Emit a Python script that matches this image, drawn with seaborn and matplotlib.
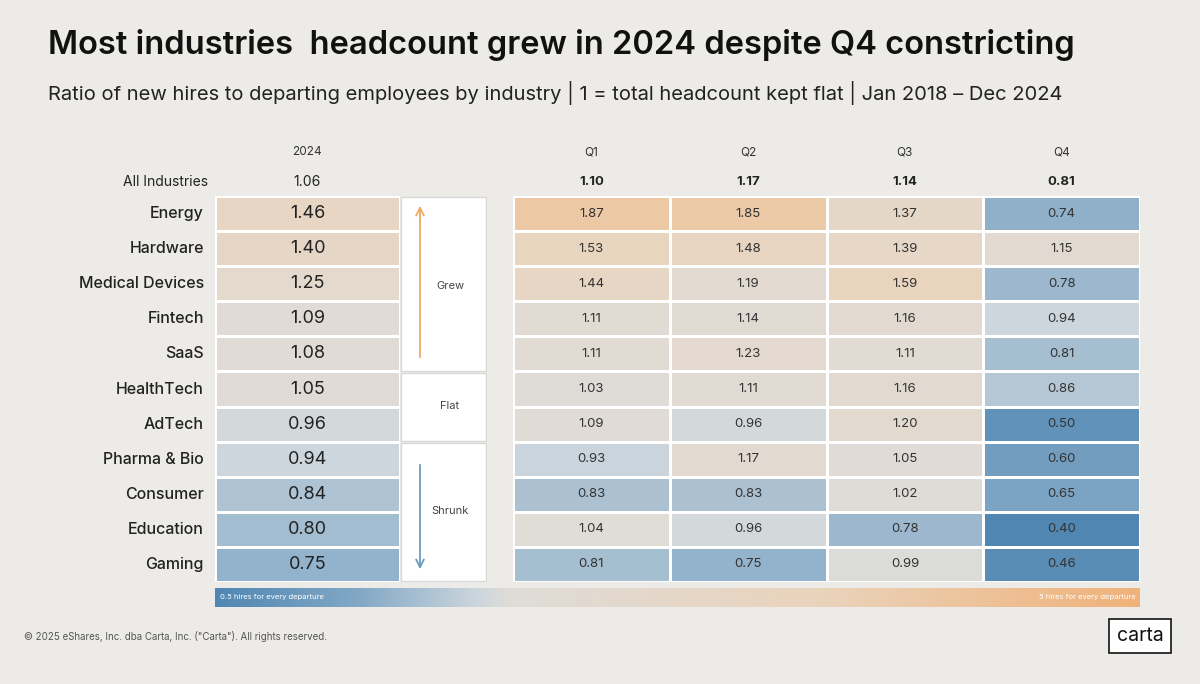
import numpy as np
import pandas as pd
import seaborn as sns
import matplotlib.pyplot as plt
from matplotlib.colors import LinearSegmentedColormap, TwoSlopeNorm
from matplotlib.patches import Rectangle, FancyArrowPatch

industries = ['Energy', 'Hardware', 'Medical Devices', 'Fintech', 'SaaS', 'HealthTech',
              'AdTech', 'Pharma & Bio', 'Consumer', 'Education', 'Gaming']
year_2024 = [1.46, 1.40, 1.25, 1.09, 1.08, 1.05, 0.96, 0.94, 0.84, 0.80, 0.75]
q1 = [1.87, 1.53, 1.44, 1.11, 1.11, 1.03, 1.09, 0.93, 0.83, 1.04, 0.81]
q2 = [1.85, 1.48, 1.19, 1.14, 1.23, 1.11, 0.96, 1.17, 0.83, 0.96, 0.75]
q3 = [1.37, 1.39, 1.59, 1.16, 1.11, 1.16, 1.20, 1.05, 1.02, 0.78, 0.99]
q4 = [0.74, 1.15, 0.78, 0.94, 0.81, 0.86, 0.50, 0.60, 0.65, 0.40, 0.46]
quarters = ['Q1', 'Q2', 'Q3', 'Q4']
all_ind_2024 = 1.06
all_ind_q = [1.10, 1.17, 1.14, 0.81]

bg = '#ecebe8'
cmap = LinearSegmentedColormap.from_list('carta', [
    (0.0, '#5087b2'), (0.25, '#84a9c6'), (0.45, '#cdd6dd'), (0.5, '#dfdcd8'),
    (0.75, '#ead3bb'), (1.0, '#f0b27a')])
norm = TwoSlopeNorm(vmin=0.4, vcenter=1.0, vmax=2.3)

W, H = 1200, 684
fig = plt.figure(figsize=(12, 6.84), dpi=100, facecolor=bg)
plt.rcParams['font.family'] = ['Inter', 'DejaVu Sans']

def fax(x0, y0, x1, y1):
    return fig.add_axes([x0 / W, 1 - y1 / H, (x1 - x0) / W, (y1 - y0) / H])

df_year = pd.DataFrame({'2024': year_2024}, index=industries)
df_q = pd.DataFrame(dict(zip(quarters, [q1, q2, q3, q4])), index=industries)

ax1 = fax(215, 196, 400, 582)
sns.heatmap(df_year, ax=ax1, cmap=cmap, norm=norm, annot=True, fmt='.2f', cbar=False,
            linewidths=2, linecolor='white', annot_kws={'size': 13, 'color': '#222'})
ax1.set_xticks([])
ax1.tick_params(axis='y', length=0, labelsize=11.5, pad=8)
ax1.set_yticklabels(industries, rotation=0, color='#222', fontweight='medium')

ax2 = fax(513, 196, 1140, 582)
sns.heatmap(df_q, ax=ax2, cmap=cmap, norm=norm, annot=True, fmt='.2f', cbar=False,
            linewidths=2, linecolor='white', annot_kws={'size': 9.5, 'color': '#333'})
ax2.set_xticks([])
ax2.set_yticks([])

# column headers and totals
fig.text(307 / W, 1 - 152 / H, '2024', ha='center', va='center', fontsize=8.5, color='#333')
fig.text(307 / W, 1 - 182 / H, f'{all_ind_2024:.2f}', ha='center', va='center', fontsize=10, color='#222')
fig.text(208 / W, 1 - 182 / H, 'All Industries', ha='right', va='center', fontsize=10, color='#222')
for i, q in enumerate(quarters):
    xc = (513 + (i + 0.5) * (627 / 4)) / W
    fig.text(xc, 1 - 152 / H, q, ha='center', va='center', fontsize=8.5, color='#333')
    fig.text(xc, 1 - 182 / H, f'{all_ind_q[i]:.2f}', ha='center', va='center', fontsize=9.5,
             fontweight='bold', color='#222')

# Grew / Flat / Shrunk panel
axm = fax(400, 196, 487, 582)
axm.set_xlim(400, 487)
axm.set_ylim(582, 196)
axm.axis('off')
for y0, y1, lab, ly in [(196, 372, 'Grew', 286), (372, 442, 'Flat', 406), (442, 582, 'Shrunk', 511)]:
    axm.add_patch(Rectangle((401, y0 + 1), 85, y1 - y0 - 2, facecolor='white', edgecolor='#d8d8d8', lw=1))
    axm.text(450, ly, lab, ha='center', va='center', fontsize=8, color='#444')
axm.add_patch(FancyArrowPatch((420, 360), (420, 203), arrowstyle='->', mutation_scale=14, color='#efa967', lw=1.3))
axm.add_patch(FancyArrowPatch((420, 462), (420, 572), arrowstyle='->', mutation_scale=14, color='#6d9bbf', lw=1.3))

# gradient legend bar
axc = fax(215, 588, 1140, 607)
axc.imshow(np.linspace(0.4, 2.3, 400)[None, :], aspect='auto', cmap=cmap, norm=norm)
axc.axis('off')
axc.text(0.005, 0.5, '0.5 hires for every departure', transform=axc.transAxes, ha='left',
         va='center', fontsize=5.5, color='white')
axc.text(0.995, 0.5, '5 hires for every departure', transform=axc.transAxes, ha='right',
         va='center', fontsize=5.5, color='white')

fig.text(48 / W, 1 - 45 / H, 'Most industries  headcount grew in 2024 despite Q4 constricting',
         ha='left', va='center', fontsize=23.5, fontweight='semibold', color='#111')
fig.text(48 / W, 1 - 93 / H, 'Ratio of new hires to departing employees by industry | 1 = total headcount kept flat | Jan 2018 \u2013 Dec 2024',
         ha='left', va='center', fontsize=14.5, color='#222')
fig.text(24 / W, 1 - 636 / H, '\u00a9 2025 eShares, Inc. dba Carta, Inc. ("Carta"). All rights reserved.',
         ha='left', va='center', fontsize=7, color='#555')
fig.text(1140 / W, 1 - 636 / H, 'carta', ha='center', va='center', fontsize=14, color='#111',
         bbox=dict(boxstyle='square,pad=0.4', facecolor='white', edgecolor='#111', lw=1.2))

fig.savefig('out.png', dpi=100, facecolor=bg)
